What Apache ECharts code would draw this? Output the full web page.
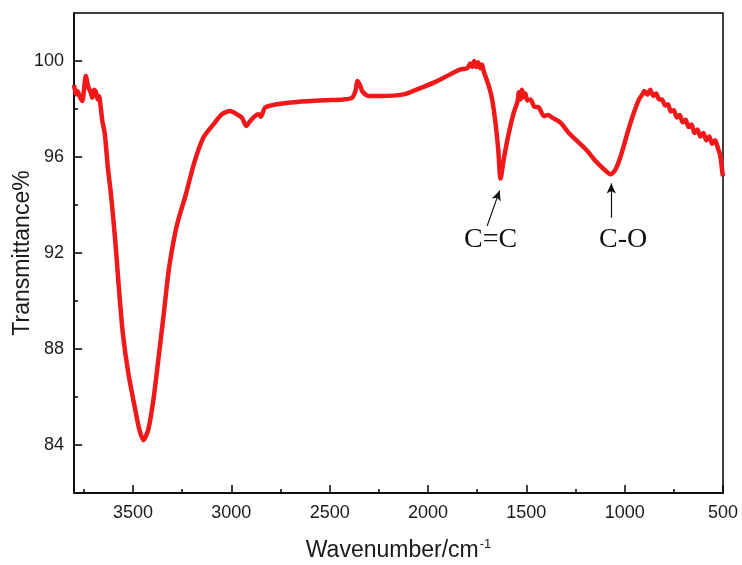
<!DOCTYPE html>
<html>
<head>
<meta charset="utf-8">
<script src="https://cdn.jsdelivr.net/npm/echarts@6/dist/echarts.min.js"></script>
<style>
  html, body { margin: 0; padding: 0; background: #fff; }
  #ftirChart { width: 742px; height: 565px; }
</style>
</head>
<body>
<div id="ftirChart"></div>
<script>
// FTIR spectrum
const wavenumber = [
  3800, 3790, 3783, 3770, 3758, 3748, 3740, 3729, 3715, 3707, 3698, 3690, 3680, 3673, 3663, 3656,
  3644, 3636, 3627, 3613, 3600, 3588, 3574, 3552, 3524, 3489, 3468, 3447, 3422, 3396, 3371, 3345,
  3320, 3298, 3274, 3231, 3189, 3142, 3091, 3048, 3006, 2972, 2946, 2924, 2904, 2879, 2862, 2850,
  2828, 2768, 2666, 2531, 2429, 2386, 2369, 2358, 2344, 2335, 2319, 2302, 2242, 2124, 2055, 1971,
  1886, 1835, 1800, 1785, 1775, 1765, 1755, 1745, 1735, 1725, 1716, 1705, 1691, 1674, 1657, 1643,
  1631, 1615, 1589, 1564, 1545, 1538, 1530, 1522, 1513, 1505, 1495, 1479, 1460, 1436, 1411, 1390,
  1368, 1326, 1284, 1233, 1190, 1148, 1105, 1071, 1046, 1020, 986, 953, 927, 910,
  900, 885, 870, 855, 840, 825, 810, 795, 780, 765, 750, 735, 720, 705, 690, 675, 660, 645,
  630, 615, 600, 585, 570, 555, 540, 525, 515, 508, 503, 500
];
const transmittance = [
  99.0, 98.6, 98.75, 98.5, 98.33, 98.9, 99.38, 98.96, 98.68, 98.47, 98.8, 98.75, 98.4, 98.54, 97.99, 97.5,
  97.0, 96.32, 95.49, 94.52, 93.4, 92.29, 90.77, 88.68, 87.0, 85.49, 84.65, 84.2, 84.65, 85.9, 87.57, 89.37,
  91.18, 92.3, 93.25, 94.45, 95.75, 96.81, 97.36, 97.78, 97.92, 97.78, 97.64, 97.29, 97.5, 97.71, 97.78, 97.68,
  98.06, 98.2, 98.29, 98.36, 98.4, 98.47, 98.75, 99.17, 98.96, 98.75, 98.61, 98.54, 98.54, 98.61, 98.82, 99.1,
  99.45, 99.65, 99.7, 99.9, 99.75, 100.0, 99.75, 99.95, 99.7, 99.85, 99.55, 99.3, 98.96, 98.4, 97.43, 96.32,
  95.1, 95.9, 97.0, 97.85, 98.3, 98.7, 98.4, 98.8, 98.5, 98.65, 98.35, 98.4, 98.1, 98.06, 97.71, 97.75,
  97.64, 97.43, 97.0, 96.6, 96.25, 95.83, 95.49, 95.28, 95.49, 96.04, 97.0, 97.85, 98.4, 98.61,
  98.75, 98.6, 98.8, 98.55, 98.65, 98.4, 98.4, 98.15, 98.2, 97.9, 97.95, 97.65, 97.75, 97.45, 97.55, 97.25, 97.35, 97.0,
  97.15, 96.85, 97.0, 96.7, 96.85, 96.55, 96.7, 96.35, 96.1, 95.7, 95.35, 95.2
];

const xMajorTicks = [3500, 3000, 2500, 2000, 1500, 1000, 500];
const xMinorTicks = [3750, 3250, 2750, 2250, 1750, 1250, 750];
const yMajorTicks = [84, 88, 92, 96, 100];
const yMinorTicks = [86, 90, 94, 98];

// peak labels: text, where the text sits, arrow tail, arrow tip
const peakNames = ['C=C', 'C-O'];
const peakTextAt = [[1682, 92.57], [1008, 92.57]];
const arrowFrom = [[1699, 93.13], [1068, 93.47]];
const arrowTo = [[1636, 94.6], [1068, 94.9]];

const chart = echarts.init(document.getElementById('ftirChart'));

const tickFont = { fontFamily: 'Liberation Sans, Arial, sans-serif', fontSize: 18, color: '#1a1a1a' };

function baseX(ticks, len, main) {
  return {
    type: 'value',
    position: 'bottom',
    inverse: true,
    min: 500,
    max: 3800,
    interval: 250,
    axisLine: { show: main, onZero: false, lineStyle: { color: '#000', width: 1.5 } },
    axisTick: { show: true, inside: true, length: len, customValues: ticks, lineStyle: { color: '#000', width: 1.5 } },
    axisLabel: main ? Object.assign({ margin: 11, customValues: xMajorTicks, formatter: v => String(v) }, tickFont) : { show: false },
    splitLine: { show: false }
  };
}
function baseY(ticks, len, main) {
  return {
    type: 'value',
    position: 'left',
    min: 82,
    max: 102,
    interval: 2,
    axisLine: { show: main, onZero: false, lineStyle: { color: '#000', width: 1.5 } },
    axisTick: { show: true, inside: true, length: len, customValues: ticks, lineStyle: { color: '#000', width: 1.5 } },
    axisLabel: main ? Object.assign({ margin: 10, customValues: yMajorTicks, formatter: v => String(v) }, tickFont) : { show: false },
    splitLine: { show: false }
  };
}

const xMain = baseX(xMajorTicks, 8, true);
xMain.name = 'Wavenumber/cm{sup|-1}';
xMain.nameLocation = 'middle';
xMain.nameGap = 45;
xMain.nameMoveOverlap = false;
xMain.nameTextStyle = {
  fontFamily: 'Liberation Sans, Arial, sans-serif', fontSize: 23, color: '#1a1a1a',
  rich: { sup: { fontFamily: 'Liberation Sans, Arial, sans-serif', fontSize: 13, color: '#1a1a1a', verticalAlign: 'top', padding: [0, 0, 12, 1] } }
};

const yMain = baseY(yMajorTicks, 8, true);
yMain.name = 'Transmittance%';
yMain.nameLocation = 'middle';
yMain.nameGap = 40;
yMain.nameMoveOverlap = false;
yMain.nameTextStyle = { fontFamily: 'Liberation Sans, Arial, sans-serif', fontSize: 23, color: '#1a1a1a' };

const option = {
  animation: false,
  backgroundColor: '#fff',
  grid: {
    left: 74, right: 19, top: 13, bottom: 72,
    containLabel: false, outerBoundsMode: 'none',
    show: true, borderColor: '#000', borderWidth: 1.5
  },
  xAxis: [xMain, baseX(xMinorTicks, 4, false)],
  yAxis: [yMain, baseY(yMinorTicks, 4, false)],
  series: [
    {
      type: 'line',
      xAxisIndex: 0,
      yAxisIndex: 0,
      data: wavenumber.map((w, i) => [w, transmittance[i]]),
      showSymbol: false,
      smooth: 0.25,
      lineStyle: { color: '#f01818', width: 4.5 },
      itemStyle: { color: '#f01818' },
      markLine: {
        silent: true,
        symbol: ['none', 'arrow'],
        symbolSize: [7, 10],
        label: { show: false },
        lineStyle: { color: '#111', width: 1.2, type: 'solid' },
        data: arrowFrom.map((p, i) => [{ coord: p }, { coord: arrowTo[i] }])
      },
      markPoint: {
        silent: true,
        symbol: 'circle',
        symbolSize: 0,
        label: {
          show: true,
          position: 'inside',
          fontFamily: 'Liberation Serif, Times New Roman, serif',
          fontSize: 28,
          color: '#111',
          formatter: p => p.name
        },
        data: peakNames.map((n, i) => ({ name: n, coord: peakTextAt[i] }))
      }
    }
  ]
};

chart.setOption(option);
</script>
</body>
</html>
